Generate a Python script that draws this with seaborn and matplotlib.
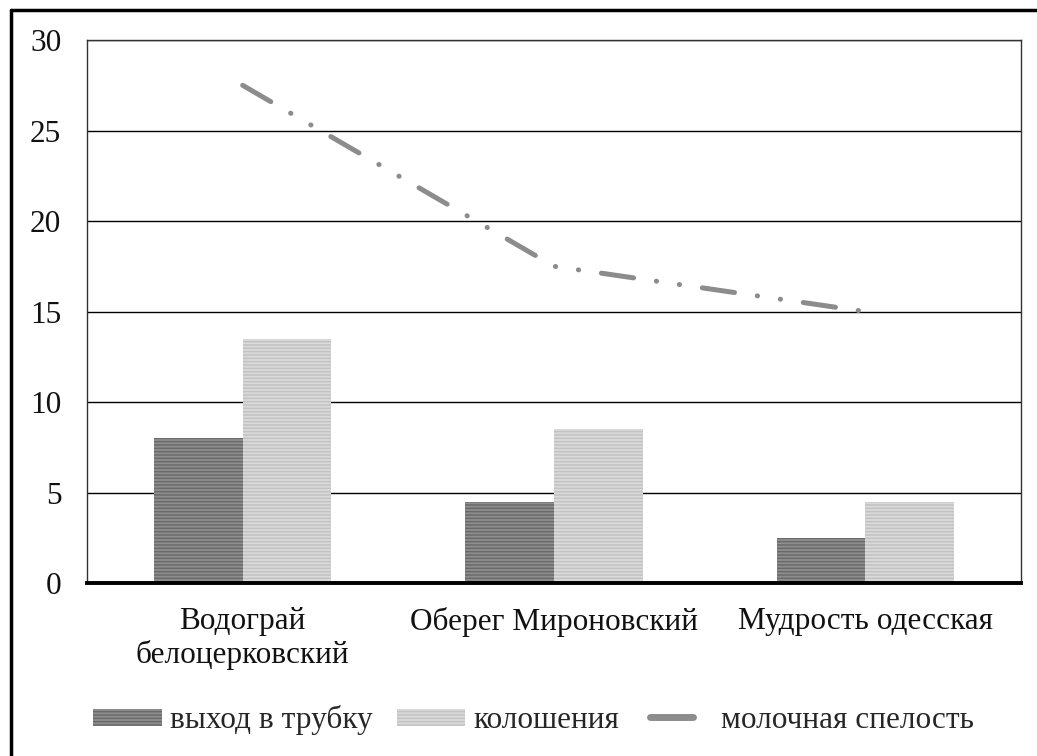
import pandas as pd
import seaborn as sns
from matplotlib import pyplot as plt
from matplotlib.patches import Patch
from matplotlib.lines import Line2D
from matplotlib.legend_handler import HandlerBase

# %%
sorta = ['Водограй\nбелоцерковский', 'Оберег Мироновский', 'Мудрость одесская']
vyhod_v_trubku = [8.0, 4.5, 2.5]
kolosheniya = [13.5, 8.5, 4.5]
molochnaya_spelost = [27.5, 17.5, 15.0]
faza = ['выход в трубку', 'колошения']

df = pd.DataFrame({
    'sort': sorta * 2,
    'faza': [faza[0]] * 3 + [faza[1]] * 3,
    'val': vyhod_v_trubku + kolosheniya,
})

sns.set_style('white')
plt.rcParams['font.family'] = ['Liberation Serif', 'DejaVu Serif']
plt.rcParams['hatch.linewidth'] = 1.1
FS = 22.5


# короткая линия в легенде
class ShortLine(HandlerBase):
    def create_artists(self, legend, orig_handle, xdescent, ydescent,
                       width, height, fontsize, trans):
        y = height / 2 - ydescent
        x0 = -xdescent + 0.08 * width
        x1 = -xdescent + 0.72 * width
        ln = Line2D([x0, x1], [y, y], color=orig_handle.get_color(),
                    lw=orig_handle.get_linewidth(), solid_capstyle='round',
                    transform=trans)
        return [ln]


fig = plt.figure(figsize=(10.37, 7.56), dpi=100)
ax = fig.add_axes([0.0839, 0.2288, 0.9007, 0.7182])

base = {'выход в трубку': '#8e8e8e', 'колошения': '#dadada'}
lines = {'выход в трубку': '#6a6a6a', 'колошения': '#c2c2c2'}

sns.barplot(data=df, x='sort', y='val', hue='faza', palette=base, width=0.57,
            ax=ax, legend=False, zorder=3)
for cont, f in zip(ax.containers, faza):
    for bar in cont:
        bar.set_hatch('-----')
        bar.set_edgecolor(lines[f])
        bar.set_linewidth(0)

# линия молочной спелости
ax.plot(range(len(sorta)), molochnaya_spelost, color='#8c8c8c', lw=3.6,
        dashes=(6.5, 4.6, 0.05, 4.6, 0.05, 4.6), dash_capstyle='round', zorder=4)

ax.set_ylim(0, 30)
ax.set_xlim(-0.5, 2.5)
ax.set_yticks(range(0, 31, 5))
ax.yaxis.grid(True, color='black', lw=1.0, zorder=0)
ax.set_axisbelow(True)
ax.set_xlabel('')
ax.set_ylabel('')
ax.tick_params(axis='both', labelsize=FS, length=0, colors='#111111')
ax.tick_params(axis='y', pad=18.5)
ax.tick_params(axis='x', pad=17)
for s in ['top', 'left', 'right']:
    ax.spines[s].set_color('#333333')
    ax.spines[s].set_linewidth(1.0)
ax.spines['bottom'].set_color('black')
ax.spines['bottom'].set_linewidth(2.8)
ax.spines['bottom'].set_zorder(5)

line_h = Line2D([], [], color='#8c8c8c', lw=5, label='молочная спелость')
handles = [
    Patch(facecolor=base[faza[0]], edgecolor=lines[faza[0]], hatch='-----', lw=0, label=faza[0]),
    Patch(facecolor=base[faza[1]], edgecolor=lines[faza[1]], hatch='-----', lw=0, label=faza[1]),
    line_h,
]
fig.legend(handles=handles, loc='center', bbox_to_anchor=(0.5145, 0.047), ncol=3,
           frameon=False, fontsize=FS, handlelength=2.18, handleheight=0.48,
           columnspacing=0.8, handletextpad=0.26,
           handler_map={line_h: ShortLine()})

# рамка рисунка
fig.add_artist(Line2D([0.0106, 0.0106], [0.0, 0.987], color='black', lw=2.5,
                      transform=fig.transFigure))
fig.add_artist(Line2D([0.0106, 1.0], [0.987, 0.987], color='black', lw=2.5,
                      transform=fig.transFigure))

fig.savefig('out.png', dpi=100)
